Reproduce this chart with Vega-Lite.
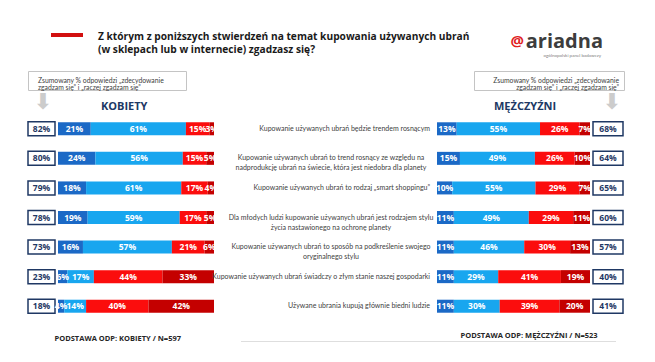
{
  "$schema": "https://vega.github.io/schema/vega-lite/v6.json",
  "background": "white",
  "padding": {"left": 27, "top": 31, "right": 0, "bottom": 0},
  "config": {
    "view": {"stroke": null},
    "font": "Open Sans",
    "locale": {"number": {"decimal": ",", "thousands": " ", "grouping": [3], "currency": ["", "%"]}},
    "axis": {"grid": false}
  },
  "datasets": {
    "stmts": [
      {"id": 1, "label": "Kupowanie używanych ubrań będzie trendem rosnącym", "k": 82, "m": 68},
      {"id": 2, "label": ["Kupowanie używanych ubrań to trend rosnący ze względu na", "nadprodukcję ubrań na świecie, która jest niedobra dla planety"], "k": 80, "m": 64},
      {"id": 3, "label": "Kupowanie używanych ubrań to rodzaj „smart shoppingu”", "k": 79, "m": 65},
      {"id": 4, "label": ["Dla młodych ludzi kupowanie używanych ubrań jest rodzajem stylu", "życia nastawionego na ochronę planety"], "k": 78, "m": 60},
      {"id": 5, "label": ["Kupowanie używanych ubrań to sposób na podkreślenie swojego", "oryginalnego stylu"], "k": 73, "m": 57},
      {"id": 6, "label": "Kupowanie używanych ubrań świadczy o złym stanie naszej gospodarki", "k": 23, "m": 40},
      {"id": 7, "label": "Używane ubrania kupują głównie biedni ludzie", "k": 18, "m": 41}
    ],
    "bars": [
      {"id": 1, "c": 1, "cat": "zdecydowanie zgadzam się", "k": 21, "m": 13},
      {"id": 1, "c": 2, "cat": "raczej zgadzam się", "k": 61, "m": 55},
      {"id": 1, "c": 3, "cat": "raczej nie zgadzam się", "k": 15, "m": 26},
      {"id": 1, "c": 4, "cat": "zdecydowanie nie zgadzam się", "k": 3, "m": 7},
      {"id": 2, "c": 1, "cat": "zdecydowanie zgadzam się", "k": 24, "m": 15},
      {"id": 2, "c": 2, "cat": "raczej zgadzam się", "k": 56, "m": 49},
      {"id": 2, "c": 3, "cat": "raczej nie zgadzam się", "k": 15, "m": 26},
      {"id": 2, "c": 4, "cat": "zdecydowanie nie zgadzam się", "k": 5, "m": 10},
      {"id": 3, "c": 1, "cat": "zdecydowanie zgadzam się", "k": 18, "m": 10},
      {"id": 3, "c": 2, "cat": "raczej zgadzam się", "k": 61, "m": 55},
      {"id": 3, "c": 3, "cat": "raczej nie zgadzam się", "k": 17, "m": 29},
      {"id": 3, "c": 4, "cat": "zdecydowanie nie zgadzam się", "k": 4, "m": 7},
      {"id": 4, "c": 1, "cat": "zdecydowanie zgadzam się", "k": 19, "m": 11},
      {"id": 4, "c": 2, "cat": "raczej zgadzam się", "k": 59, "m": 49},
      {"id": 4, "c": 3, "cat": "raczej nie zgadzam się", "k": 17, "m": 29},
      {"id": 4, "c": 4, "cat": "zdecydowanie nie zgadzam się", "k": 5, "m": 11},
      {"id": 5, "c": 1, "cat": "zdecydowanie zgadzam się", "k": 16, "m": 11},
      {"id": 5, "c": 2, "cat": "raczej zgadzam się", "k": 57, "m": 46},
      {"id": 5, "c": 3, "cat": "raczej nie zgadzam się", "k": 21, "m": 30},
      {"id": 5, "c": 4, "cat": "zdecydowanie nie zgadzam się", "k": 6, "m": 13},
      {"id": 6, "c": 1, "cat": "zdecydowanie zgadzam się", "k": 6, "m": 11},
      {"id": 6, "c": 2, "cat": "raczej zgadzam się", "k": 17, "m": 29},
      {"id": 6, "c": 3, "cat": "raczej nie zgadzam się", "k": 44, "m": 41},
      {"id": 6, "c": 4, "cat": "zdecydowanie nie zgadzam się", "k": 33, "m": 19},
      {"id": 7, "c": 1, "cat": "zdecydowanie zgadzam się", "k": 4, "m": 11},
      {"id": 7, "c": 2, "cat": "raczej zgadzam się", "k": 14, "m": 30},
      {"id": 7, "c": 3, "cat": "raczej nie zgadzam się", "k": 40, "m": 39},
      {"id": 7, "c": 4, "cat": "zdecydowanie nie zgadzam się", "k": 42, "m": 20}
    ]
  },
  "bounds": "flush",
  "spacing": 38,
  "resolve": {"scale": {"x": "independent", "y": "independent"}},
  "vconcat": [
    {
      "bounds": "flush",
      "spacing": 0,
      "resolve": {"scale": {"x": "independent", "y": "independent"}},
      "hconcat": [
        {"width": 23, "height": 4, "data": {"values": [{}]}, "mark": {"type": "point", "opacity": 0}},
        {"width": 32, "height": 4, "view": {"fill": "#d20f0f", "stroke": null}, "data": {"values": [{}]}, "mark": {"type": "point", "opacity": 0}},
        {
          "width": 520,
          "height": 14,
          "data": {"values": [{"logo": "ariadna", "icon": "@", "tag": "ogólnopolski panel badawczy"}]},
          "title": {
            "text": ["Z którym z poniższych stwierdzeń na temat kupowania używanych ubrań", "(w sklepach lub w internecie) zgadzasz się?"],
            "anchor": "start", "frame": "group", "orient": "top", "dx": 15, "offset": -33, "baseline": "bottom",
            "fontSize": 10.2, "fontWeight": "bold", "color": "#1a1a1a", "lineHeight": 13, "font": "Open Sans"
          },
          "layer": [
            {"mark": {"type": "text", "x": "width", "align": "right", "baseline": "middle", "dy": 2, "fontSize": 20, "fontWeight": "bold", "color": "#3d3d3d", "font": "Open Sans"}, "encoding": {"text": {"field": "logo"}}},
            {"mark": {"type": "text", "x": "width", "align": "right", "baseline": "middle", "dx": -79, "dy": 1, "fontSize": 15, "fontWeight": "bold", "color": "#e0201c", "font": "Open Sans"}, "encoding": {"text": {"field": "icon"}}},
            {"mark": {"type": "text", "x": "width", "align": "right", "baseline": "middle", "dx": -2, "dy": 16, "fontSize": 4.5, "color": "#808080", "font": "Lato"}, "encoding": {"text": {"field": "tag"}}}
          ]
        }
      ]
    },
    {
      "bounds": "flush",
      "spacing": 43,
      "resolve": {"scale": {"x": "independent", "y": "independent"}},
      "vconcat": [
        {
          "bounds": "flush",
          "spacing": 288,
          "hconcat": [
            {
              "width": 158, "height": 19,
              "view": {"stroke": "#c4c4c4", "fill": "white"},
              "data": {"values": [{"t": ["Zsumowany % odpowiedzi „zdecydowanie", "zgadzam się” i „raczej zgadzam się”"]}]},
              "mark": {"type": "text", "x": 0, "dx": 10, "align": "left", "baseline": "middle", "fontSize": 6.8, "font": "Lato", "color": "#404040", "lineHeight": 7},
              "encoding": {"text": {"field": "t"}}
            },
            {
              "width": 150, "height": 19,
              "view": {"stroke": "#c4c4c4", "fill": "white"},
              "data": {"values": [{"t": ["Zsumowany % odpowiedzi „zdecydowanie", "zgadzam się” i „raczej zgadzam się”"]}]},
              "mark": {"type": "text", "x": "width", "dx": -5, "align": "right", "baseline": "middle", "fontSize": 6.8, "font": "Lato", "color": "#404040", "lineHeight": 7},
              "encoding": {"text": {"field": "t"}}
            }
          ]
        },
        {
          "bounds": "flush",
          "spacing": 227,
          "resolve": {"scale": {"x": "independent", "y": "independent"}},
          "vconcat": [
            {
              "bounds": "flush",
              "spacing": 3,
              "resolve": {"scale": {"x": "independent", "y": "independent"}},
              "hconcat": [
                {
                  "width": 27, "height": 207,
                  "data": {"name": "stmts"},
                  "title": {"text": "⬇", "font": "DejaVu Sans", "fontSize": 22, "color": "#cccccc", "offset": 0, "anchor": "middle", "dx": 1.5},
                  "encoding": {"y": {"field": "id", "type": "ordinal", "axis": null, "scale": {"paddingInner": 0.56, "paddingOuter": 0.28}}},
                  "layer": [
                    {"mark": {"type": "bar", "height": 14, "fill": "white", "stroke": "#1f3864", "strokeWidth": 1.5}},
                    {"mark": {"type": "text", "color": "#1f3864", "fontWeight": "bold", "fontSize": 8.5}, "encoding": {"text": {"field": "k", "format": "$d"}}}
                  ]
                },
                {
                  "width": 156, "height": 207,
                  "data": {"name": "bars"},
                  "title": {"text": "KOBIETY", "anchor": "start", "frame": "group", "dx": 43, "offset": 2, "fontSize": 11, "fontWeight": "bold", "color": "#203864", "font": "Open Sans"},
                  "encoding": {
                    "y": {"field": "id", "type": "ordinal", "axis": null, "scale": {"paddingInner": 0.56, "paddingOuter": 0.28}},
                    "order": {"field": "c"}
                  },
                  "layer": [
                    {
                      "mark": {"type": "bar"},
                      "encoding": {
                        "x": {"field": "k", "type": "quantitative", "stack": "normalize", "scale": {"nice": false},
                          "axis": {"title": "PODSTAWA ODP: KOBIETY / N=597", "labels": false, "ticks": false, "domain": false, "titleAlign": "left", "titleAnchor": "start", "titleX": -4, "titleY": 17, "titleBaseline": "middle", "titleFontSize": 7.5, "titleFontWeight": "bold", "titleColor": "#262626", "titleFont": "Open Sans"}},
                        "color": {"field": "cat", "type": "nominal", "legend": null,
                          "scale": {"domain": ["zdecydowanie zgadzam się", "raczej zgadzam się", "raczej nie zgadzam się", "zdecydowanie nie zgadzam się"], "range": ["#1b69c6", "#18a6ef", "#fb0d0d", "#c40000"]}}
                      }
                    },
                    {
                      "mark": {"type": "text", "color": "white", "fontWeight": "bold", "fontSize": 8.5},
                      "encoding": {
                        "x": {"field": "k", "type": "quantitative", "stack": "normalize", "bandPosition": 0.5, "scale": {"nice": false},
                          "axis": {"title": "PODSTAWA ODP: KOBIETY / N=597", "labels": false, "ticks": false, "domain": false, "titleAlign": "left", "titleAnchor": "start", "titleX": -4, "titleY": 17, "titleBaseline": "middle", "titleFontSize": 7.5, "titleFontWeight": "bold", "titleColor": "#262626", "titleFont": "Open Sans"}},
                        "detail": {"field": "cat"},
                        "text": {"field": "k", "format": "$d"}
                      }
                    }
                  ]
                },
                {
                  "width": 217, "height": 207,
                  "data": {"name": "stmts"},
                  "encoding": {
                    "y": {"field": "id", "type": "ordinal", "axis": null, "scale": {"paddingInner": 0.56, "paddingOuter": 0.28}},
                    "text": {"field": "label"}
                  },
                  "layer": [
                    {"transform": [{"filter": "!isArray(datum.label)"}], "mark": {"type": "text", "align": "right", "x": "width", "dx": -4, "fontSize": 7, "font": "Lato", "color": "#404040"}},
                    {"transform": [{"filter": "isArray(datum.label)"}], "mark": {"type": "text", "align": "center", "x": "width", "dx": -103, "fontSize": 7, "font": "Lato", "color": "#404040", "lineHeight": 10}}
                  ]
                },
                {
                  "width": 153, "height": 207,
                  "data": {"name": "bars"},
                  "title": {"text": "MĘŻCZYŹNI", "anchor": "start", "frame": "group", "dx": 57, "offset": 2, "fontSize": 11, "fontWeight": "bold", "color": "#203864", "font": "Open Sans"},
                  "encoding": {
                    "y": {"field": "id", "type": "ordinal", "axis": null, "scale": {"paddingInner": 0.56, "paddingOuter": 0.28}},
                    "order": {"field": "c"}
                  },
                  "layer": [
                    {
                      "mark": {"type": "bar"},
                      "encoding": {
                        "x": {"field": "m", "type": "quantitative", "stack": "normalize", "scale": {"nice": false},
                          "axis": {"title": "PODSTAWA ODP: MĘŻCZYŹNI / N=523", "labels": false, "ticks": false, "domain": false, "titleAlign": "left", "titleAnchor": "start", "titleX": 23, "titleY": 14, "titleBaseline": "middle", "titleFontSize": 7.5, "titleFontWeight": "bold", "titleColor": "#262626", "titleFont": "Open Sans"}},
                        "color": {"field": "cat", "type": "nominal", "legend": null,
                          "scale": {"domain": ["zdecydowanie zgadzam się", "raczej zgadzam się", "raczej nie zgadzam się", "zdecydowanie nie zgadzam się"], "range": ["#1b69c6", "#18a6ef", "#fb0d0d", "#c40000"]}}
                      }
                    },
                    {
                      "mark": {"type": "text", "color": "white", "fontWeight": "bold", "fontSize": 8.5},
                      "encoding": {
                        "x": {"field": "m", "type": "quantitative", "stack": "normalize", "bandPosition": 0.5, "scale": {"nice": false},
                          "axis": {"title": "PODSTAWA ODP: MĘŻCZYŹNI / N=523", "labels": false, "ticks": false, "domain": false, "titleAlign": "left", "titleAnchor": "start", "titleX": 23, "titleY": 14, "titleBaseline": "middle", "titleFontSize": 7.5, "titleFontWeight": "bold", "titleColor": "#262626", "titleFont": "Open Sans"}},
                        "detail": {"field": "cat"},
                        "text": {"field": "m", "format": "$d"}
                      }
                    }
                  ]
                },
                {
                  "width": 30, "height": 207,
                  "data": {"name": "stmts"},
                  "title": {"text": "⬇", "font": "DejaVu Sans", "fontSize": 22, "color": "#cccccc", "offset": 0, "anchor": "middle", "dx": 4},
                  "encoding": {"y": {"field": "id", "type": "ordinal", "axis": null, "scale": {"paddingInner": 0.56, "paddingOuter": 0.28}}},
                  "layer": [
                    {"mark": {"type": "bar", "height": 14, "fill": "white", "stroke": "#1f3864", "strokeWidth": 1.5}},
                    {"mark": {"type": "text", "color": "#1f3864", "fontWeight": "bold", "fontSize": 8.5}, "encoding": {"text": {"field": "m", "format": "$d"}}}
                  ]
                }
              ]
            },
            {
              "bounds": "flush",
              "spacing": 0,
              "hconcat": [
                {"width": 213, "height": 1, "data": {"values": [{}]}, "mark": {"type": "point", "opacity": 0}},
                {"width": 375, "height": 1, "view": {"fill": "#dedede", "stroke": null}, "data": {"values": [{}]}, "mark": {"type": "point", "opacity": 0}}
              ]
            }
          ]
        }
      ]
    }
  ]
}
